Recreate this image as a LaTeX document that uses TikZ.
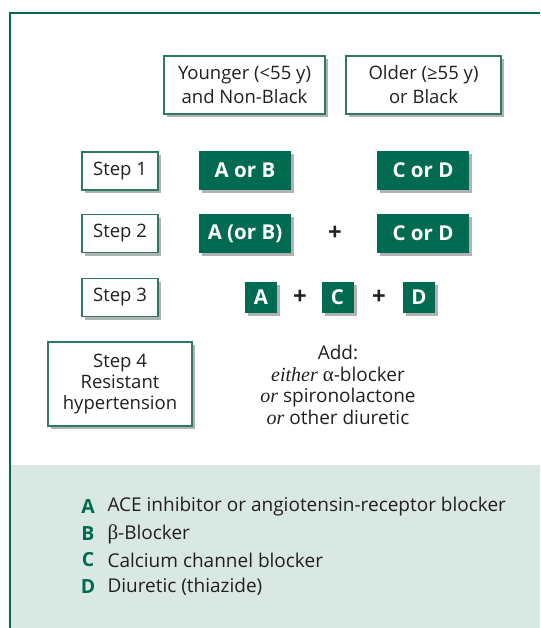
\documentclass[tikz,border=0pt]{standalone}
\usepackage{fontspec}
\setmainfont{Open Sans}
\newfontfamily\grkfont{Liberation Serif}
\usetikzlibrary{positioning,shadows}

\definecolor{hgreen}{HTML}{006B50}
\definecolor{hborder}{HTML}{2A7A66}
\definecolor{hpanel}{HTML}{D9E8E3}
\definecolor{htext}{HTML}{231F20}

\tikzset{
  shade/.style={drop shadow={shadow xshift=3pt, shadow yshift=-3pt, opacity=0.3, fill=black}},
  grpbox/.style={shade, draw=hborder, line width=1.2pt, fill=white, text=htext, align=center,
    inner sep=0pt, font=\fontsize{18.5}{24}\selectfont},
  stepbox/.style={grpbox, minimum width=76pt, minimum height=38pt},
  drugbox/.style={shade, fill=hgreen, text=white, inner sep=0pt,
    font=\fontsize{20.5}{22}\selectfont\bfseries, minimum height=39pt},
  plus/.style={text=htext, font=\fontsize{24}{24}\selectfont\bfseries},
  keyletter/.style={text=hgreen, font=\fontsize{19.5}{22}\selectfont\bfseries},
  keytext/.style={anchor=west, text=htext, font=\fontsize{19}{22}\selectfont}
}

\begin{document}
\begin{tikzpicture}[x=1pt, y=-1pt]
  \useasboundingbox (0,0) rectangle (540,628);

  % 枠と下の欄
  \fill[hpanel] (11,465) rectangle (540,628);
  \draw[hgreen, line width=2pt] (10,628) -- (10,13) -- (540,13);

  % 患者の区分
  \node[grpbox, minimum width=161pt, minimum height=58pt] (young) at (244.5,85) {Younger (<55 y)\\and Non-Black};
  \node[grpbox, minimum width=155pt, minimum height=58pt] (old) at (423.5,85) {Older (≥55 y)\\or Black};

  % 段階
  \foreach \n/\y in {1/171, 2/233.5, 3/297.5} {
    \node[stepbox] (step\n) at (120,\y) {Step \n};
  }
  \node[grpbox, minimum width=144pt, minimum height=84pt, font=\fontsize{18.5}{21}\selectfont] (step4) at (120,384) {Step 4\\Resistant\\hypertension};

  % 薬の組合せ
  \node[drugbox, minimum width=92pt] (ab1) at (245,170.5) {A or B};
  \node[drugbox, minimum width=92pt] (cd1) at (423,170.5) {C or D};
  \node[drugbox, minimum width=92pt] (ab2) at (245,233.5) {A (or B)};
  \node[drugbox, minimum width=92pt] (cd2) at (423,233.5) {C or D};
  \node[plus] (p2) at (335,233) {+};

  \node[drugbox, minimum width=32pt, minimum height=31pt] (a3) at (261,297.5) {A};
  \node[drugbox, minimum width=32pt, minimum height=31pt] (c3) at (337.5,297.5) {C};
  \node[drugbox, minimum width=32pt, minimum height=31pt] (d3) at (419,297.5) {D};
  \node[plus] (p3a) at (300,297) {+};
  \node[plus] (p3b) at (379,297) {+};

  \node[align=center, text=htext, font=\fontsize{19}{21.5}\selectfont] (add) at (338,385)
    {Add:\\{\grkfont\itshape\fontsize{20}{21.5}\selectfont either} {\grkfont\fontsize{21}{21.5}\selectfont α}-blocker\\{\grkfont\itshape\fontsize{20}{21.5}\selectfont or} spironolactone\\{\grkfont\itshape\fontsize{20}{21.5}\selectfont or} other diuretic};

  % 凡例
  \foreach \k/\y/\t in {A/507/ACE inhibitor or angiotensin-receptor blocker,
                        B/534/{{\grkfont\fontsize{21}{22}\selectfont β}-Blocker},
                        C/560/Calcium channel blocker,
                        D/587/Diuretic (thiazide)} {
    \node[keyletter] (key\k) at (88,\y) {\k};
    \node[keytext] (txt\k) at (104,\y) {\t};
  }
\end{tikzpicture}
\end{document}
